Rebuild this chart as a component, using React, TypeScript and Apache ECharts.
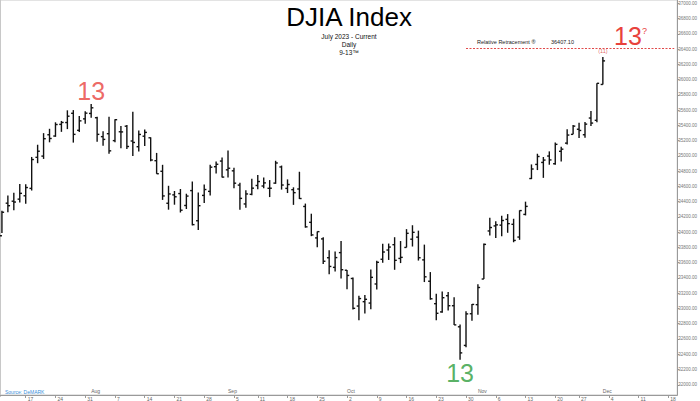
import React, { useEffect, useRef } from 'react';
import * as echarts from 'echarts';

// ---- Data (DJIA daily OHLC) ----
const tradingDates = [
  '2023-07-10','2023-07-11','2023-07-12','2023-07-13','2023-07-14','2023-07-17','2023-07-18','2023-07-19','2023-07-20','2023-07-21',
  '2023-07-24','2023-07-25','2023-07-26','2023-07-27','2023-07-28','2023-07-31',
  '2023-08-01','2023-08-02','2023-08-03','2023-08-04','2023-08-07','2023-08-08','2023-08-09','2023-08-10','2023-08-11',
  '2023-08-14','2023-08-15','2023-08-16','2023-08-17','2023-08-18','2023-08-21','2023-08-22','2023-08-23','2023-08-24','2023-08-25',
  '2023-08-28','2023-08-29','2023-08-30','2023-08-31',
  '2023-09-01','2023-09-05','2023-09-06','2023-09-07','2023-09-08','2023-09-11','2023-09-12','2023-09-13','2023-09-14','2023-09-15',
  '2023-09-18','2023-09-19','2023-09-20','2023-09-21','2023-09-22','2023-09-25','2023-09-26','2023-09-27','2023-09-28','2023-09-29',
  '2023-10-02','2023-10-03','2023-10-04','2023-10-05','2023-10-06','2023-10-09','2023-10-10','2023-10-11','2023-10-12','2023-10-13',
  '2023-10-16','2023-10-17','2023-10-18','2023-10-19','2023-10-20','2023-10-23','2023-10-24','2023-10-25','2023-10-26','2023-10-27',
  '2023-10-30','2023-10-31',
  '2023-11-01','2023-11-02','2023-11-03','2023-11-06','2023-11-07','2023-11-08','2023-11-09','2023-11-10','2023-11-13','2023-11-14',
  '2023-11-15','2023-11-16','2023-11-17','2023-11-20','2023-11-21','2023-11-22','2023-11-24','2023-11-27','2023-11-28','2023-11-29',
  '2023-11-30','2023-12-01',
];
const futureDates = [
  '2023-12-04','2023-12-05','2023-12-06','2023-12-07','2023-12-08','2023-12-11','2023-12-12','2023-12-13','2023-12-14','2023-12-15',
  '2023-12-18','2023-12-19',
];
const opens = [
  33742,33953,34380,34406,34433,34477,34574,34981,34997,35277,
  35260,35413,35437,35558,35335,35485,
  35556,35500,35252,35291,35200,35316,35389,35195,35120,
  35258,35237,34937,34798,34379,34489,34506,34350,34545,34150,
  34482,34535,34858,34932,
  34817,34804,34617,34370,34496,34612,34605,34575,34643,34855,
  34574,34557,34566,34337,34129,33925,33912,33665,33539,33732,
  33501,33393,33032,33089,33071,33321,33645,33766,33836,33656,
  33800,33908,33935,33637,33357,33063,32955,33167,33036,32760,
  32516,32931,
  33050,33386,34016,34082,34092,34168,34103,33936,34233,34703,
  34888,34914,34998,34897,35060,35167,35282,35349,35277,35496,
  35466,35936,
];
const highs = [
  33952,34280,34482,34517,34630,34628,34986,35146,35298,35355,
  35440,35458,35597,35600,35524,35585,
  35679,35512,35324,35513,35480,35390,35405,35578,35334,
  35346,35243,35039,34883,34608,34540,34566,34504,34664,34520,
  34624,34883,34925,34979,
  35070,34844,34647,34550,34701,34749,34716,34683,34936,34873,
  34692,34588,34792,34375,34242,34009,33935,33762,33746,33885,
  33505,33407,33168,33175,33510,33625,33849,33851,33934,33884,
  34040,34091,34020,33837,33477,33194,33224,33216,33148,32790,
  32965,33060,
  33317,33850,34189,34143,34214,34237,34176,34286,34400,34888,
  35028,34985,35059,35175,35120,35349,35406,35433,35443,35589,
  35951,36296,
];
const lows = [
  33706,33990,34262,34287,34390,34374,34546,34904,34960,35178,
  35250,35315,35351,35174,35312,35421,
  35500,35186,35132,35028,35180,35100,35089,35000,35058,
  35131,34929,34765,34423,34295,34360,34258,34304,34089,34029,
  34383,34481,34770,34716,
  34717,34576,34295,34319,34483,34564,34575,34460,34634,34558,
  34513,34358,34435,34059,33948,33804,33582,33450,33483,33392,
  33252,32988,32846,32933,32990,33250,33599,33636,33507,33595,
  33800,33812,33628,33346,33115,32846,32945,32974,32783,32327,
  32491,32838,
  32919,33386,33958,33923,33947,33992,33868,33900,34220,34696,
  34814,34712,34884,34883,34925,35150,35282,35234,35238,35392,
  35440,35936,
];
const closes = [
  33944,34261,34347,34395,34509,34585,34952,35061,35225,35228,
  35411,35438,35520,35282,35459,35560,
  35630,35282,35216,35066,35474,35314,35123,35176,35281,
  35308,34946,34766,34475,34501,34464,34288,34473,34099,34347,
  34559,34852,34890,34722,
  34838,34642,34443,34501,34577,34664,34646,34576,34907,34618,
  34625,34518,34441,34070,33964,34007,33619,33551,33667,33508,
  33433,33002,33130,33120,33408,33605,33740,33805,33631,33670,
  33985,33998,33665,33415,33127,32937,33141,33036,32785,32418,
  32929,33053,
  33275,33840,34061,34096,34153,34112,33892,34283,34338,34828,
  34992,34945,34947,35151,35088,35273,35390,35333,35416,35430,
  35951,36245,
];
const yTickValues = [
  32000,32200,32400,32600,32800,33000,33200,33400,33600,33800,34000,34200,34400,
  34600,34800,35000,35200,35400,35600,35800,36000,36200,36400,36600,36800,37000,
];
const monthNames = ['Jan','Feb','Mar','Apr','May','Jun','Jul','Aug','Sep','Oct','Nov','Dec'];

// DeMark signal annotations
const signalDates = ['2023-08-01', '2023-10-27', '2023-12-01'];
const signalTexts = ['13', '13', '(11)'];
const signalSides = ['high', 'low', 'high'];
const retracementLevel = 36407.10;
const retracementLabel = '36407.10';
const retracementStart = '2023-10-30';

const categories = [...tradingDates, ...futureDates];
const dow = (s: string) => new Date(s + 'T00:00:00Z').getUTCDay();
const isWeekStart = (i: number) => i > 0 && dow(categories[i]) < dow(categories[i - 1]);
const isMonthStart = (i: number) => i > 0 && categories[i].slice(5, 7) !== categories[i - 1].slice(5, 7);

const FONT = "'Liberation Sans', Arial, Helvetica, sans-serif";
// the chart div starts OX px left of the page so that the first bars are cut at the left edge
const OX = 10;

export default function App() {
  const ref = useRef<HTMLDivElement>(null);
  useEffect(() => {
    const chart = echarts.init(ref.current as HTMLDivElement, null, { renderer: 'svg' });
    const ohlc = opens.map((o, i) => [i, o, highs[i], lows[i], closes[i]]);
    const barStyle = { stroke: '#111', lineWidth: 1.4 };

    const signalColors = ['#e8423c', '#2e9d3c', '#d9413b'];
    const signalPoints = signalDates.map((d, k) => {
      const i = tradingDates.indexOf(d);
      const v = signalSides[k] === 'high' ? highs[i] : lows[i];
      const small = signalTexts[k] !== '13';
      return {
        value: [i, v],
        label: {
          show: true,
          formatter: signalTexts[k],
          position: signalSides[k] === 'high' ? 'top' : 'bottom',
          distance: small ? 3 : 1,
          fontSize: small ? 5.5 : 25,
          color: signalColors[k],
          fontFamily: FONT,
        },
      };
    });

    const option: any = {
      animation: false,
      backgroundColor: '#ffffff',
      textStyle: { fontFamily: FONT },
      grid: {
        left: 3, right: 15, top: 0, bottom: 4,
        show: true, borderColor: '#c8c8c8', borderWidth: 1, backgroundColor: 'transparent',
      },
      xAxis: [
        {
          type: 'category',
          data: categories,
          boundaryGap: true,
          position: 'bottom',
          axisLine: { show: true, lineStyle: { color: '#9a9a9a', width: 1 } },
          axisTick: {
            show: true, alignWithLabel: true, length: 3,
            interval: (i: number) => isWeekStart(i),
            lineStyle: { color: '#9a9a9a' },
          },
          axisLabel: {
            interval: (i: number) => isWeekStart(i),
            formatter: (v: string) => String(Number(v.slice(8))),
            fontSize: 5, color: '#666', margin: 1, align: 'left', padding: [0, 0, 0, 2],
          },
          splitLine: { show: false },
        },
        {
          type: 'category',
          data: categories,
          boundaryGap: true,
          position: 'bottom',
          axisLine: { show: false },
          axisTick: { show: false },
          axisLabel: {
            inside: true,
            interval: (i: number) => isMonthStart(i),
            formatter: (v: string) => monthNames[Number(v.slice(5, 7)) - 1],
            fontSize: 5, color: '#666', margin: 2, align: 'left',
          },
          splitLine: { show: false },
        },
      ],
      yAxis: {
        type: 'value',
        position: 'right',
        min: 31866,
        max: 37043,
        axisLine: { show: true, lineStyle: { color: '#9a9a9a', width: 1 } },
        axisTick: { show: true, length: 2, customValues: yTickValues, lineStyle: { color: '#9a9a9a' } },
        axisLabel: {
          customValues: yTickValues,
          formatter: (v: number) => v.toFixed(2),
          fontSize: 4.5, color: '#777', margin: 1,
        },
        splitLine: { show: false },
      },
      series: [
        {
          type: 'custom',
          xAxisIndex: 0,
          yAxisIndex: 0,
          clip: true,
          data: ohlc,
          encode: { x: 0, y: [1, 2, 3, 4] },
          renderItem: (params: any, api: any) => {
            const x = api.value(0);
            const ph = api.coord([x, api.value(2)]);
            const pl = api.coord([x, api.value(3)]);
            const po = api.coord([x, api.value(1)]);
            const pc = api.coord([x, api.value(4)]);
            const w = 2.2;
            return {
              type: 'group',
              children: [
                { type: 'line', shape: { x1: ph[0], y1: ph[1], x2: pl[0], y2: pl[1] }, style: barStyle },
                { type: 'line', shape: { x1: po[0] - w, y1: po[1], x2: po[0], y2: po[1] }, style: barStyle },
                { type: 'line', shape: { x1: pc[0], y1: pc[1], x2: pc[0] + w, y2: pc[1] }, style: barStyle },
              ],
            };
          },
        },
        {
          type: 'scatter',
          xAxisIndex: 0,
          yAxisIndex: 0,
          symbolSize: 0,
          silent: true,
          data: signalPoints,
          markLine: {
            silent: true,
            symbol: ['none', 'none'],
            label: { show: false },
            lineStyle: { color: '#e04a4a', type: [2, 1.5], width: 1 },
            data: [[
              { coord: [tradingDates.indexOf(retracementStart), retracementLevel] },
              { coord: [categories.length - 1, retracementLevel] },
            ]],
          },
        },
      ],
      graphic: [
        { type: 'line', shape: { x1: OX + 0.5, y1: 0, x2: OX + 0.5, y2: 397 }, style: { stroke: '#c8c8c8', lineWidth: 1 } },
        {
          type: 'text', x: OX + 349, y: 17,
          style: { text: 'DJIA Index', fontSize: 26, fontFamily: FONT, fill: '#000', align: 'center', verticalAlign: 'middle' },
        },
        {
          type: 'text', x: OX + 349, y: 36,
          style: { text: 'July 2023 - Current', fontSize: 6.5, fontFamily: FONT, fill: '#111', align: 'center', verticalAlign: 'middle' },
        },
        {
          type: 'text', x: OX + 349, y: 44.5,
          style: { text: 'Daily', fontSize: 6.5, fontFamily: FONT, fill: '#111', align: 'center', verticalAlign: 'middle' },
        },
        {
          type: 'text', x: OX + 349, y: 52.5,
          style: { text: '9-13™', fontSize: 6.5, fontFamily: FONT, fill: '#111', align: 'center', verticalAlign: 'middle' },
        },
        {
          type: 'text', x: OX + 477, y: 42,
          style: { text: 'Relative Retracement ®', fontSize: 5.5, fontFamily: FONT, fill: '#222', align: 'left', verticalAlign: 'middle' },
        },
        {
          type: 'text', x: OX + 551, y: 42,
          style: { text: retracementLabel, fontSize: 5.5, fontFamily: FONT, fill: '#222', align: 'left', verticalAlign: 'middle' },
        },
        {
          type: 'text', x: OX + 614, y: 36,
          style: { text: '13', fontSize: 25, fontFamily: FONT, fill: '#e8423c', align: 'left', verticalAlign: 'middle' },
        },
        {
          type: 'text', x: OX + 642, y: 31,
          style: { text: '?', fontSize: 9, fontFamily: FONT, fill: '#e8423c', align: 'left', verticalAlign: 'middle' },
        },
        {
          type: 'text', x: OX + 5, y: 391.5,
          style: { text: 'Source: DeMARK', fontSize: 5, fontFamily: FONT, fill: '#3b8fd9', align: 'left', verticalAlign: 'middle' },
        },
      ],
    };
    chart.setOption(option);
    return () => chart.dispose();
  }, []);
  return (
    <div
      ref={ref}
      style={{ position: 'absolute', left: -OX, top: 0, width: 700 + OX, height: 401, background: '#fff' }}
    />
  );
}
